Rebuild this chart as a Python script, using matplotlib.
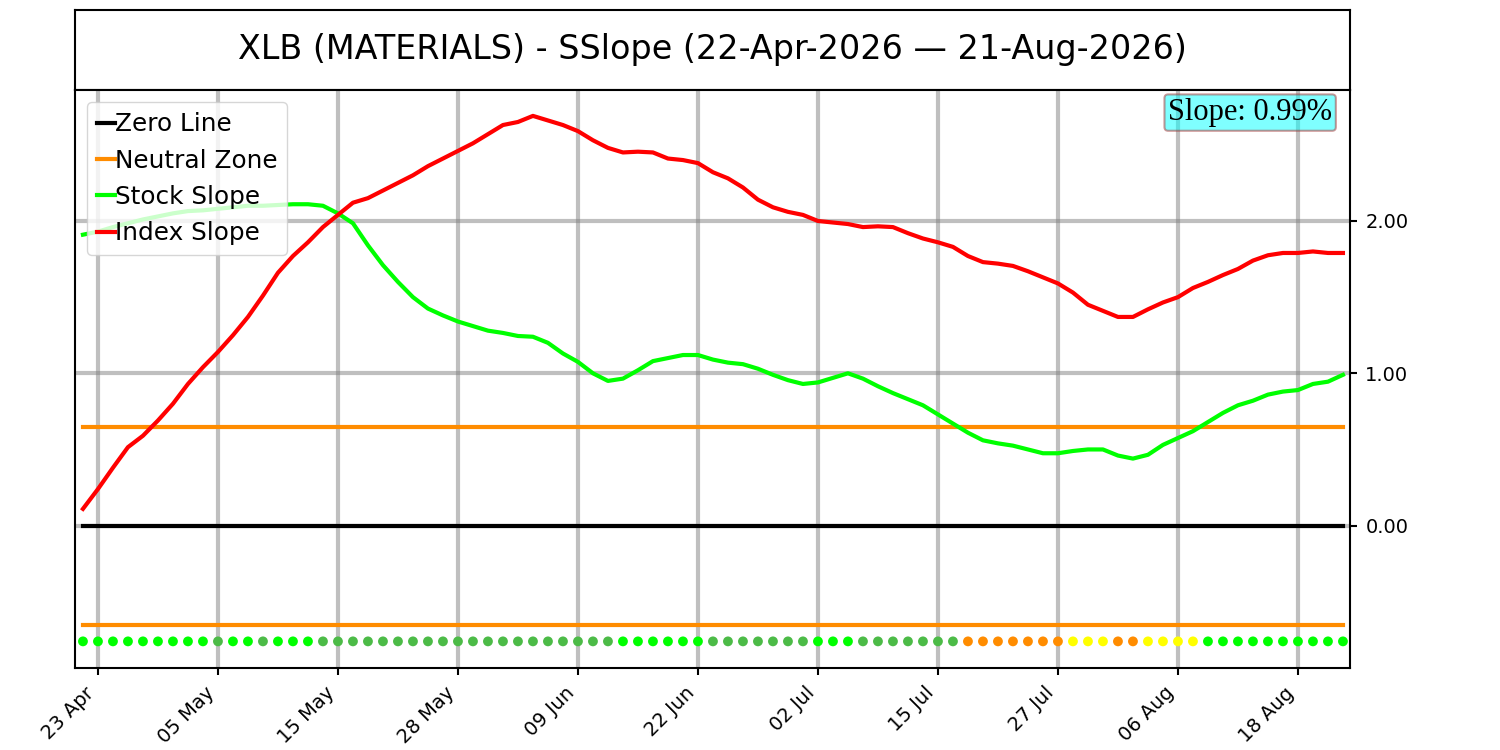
import matplotlib
matplotlib.use("Agg")
import matplotlib.pyplot as plt
from matplotlib.ticker import FormatStrFormatter
import pandas as pd

# trading days shown on the chart (US market holidays removed)
start_date = "2026-04-22"
end_date = "2026-08-21"
holidays = ["2026-05-25", "2026-06-19", "2026-07-03"]

ticker = "XLB"
sector = "MATERIALS"

# slope series, one value per trading day
stock_slope = [1.91, 1.93, 1.96, 1.985, 2.01, 2.03, 2.05, 2.065, 2.07, 2.08,
               2.09, 2.10, 2.10, 2.105, 2.11, 2.11, 2.10, 2.05, 1.985, 1.84,
               1.71, 1.60, 1.50, 1.425, 1.38, 1.34, 1.31, 1.28, 1.265, 1.245,
               1.24, 1.20, 1.13, 1.075, 1.00, 0.95, 0.965, 1.02, 1.08, 1.10,
               1.12, 1.12, 1.09, 1.07, 1.06, 1.03, 0.99, 0.955, 0.93, 0.94,
               0.97, 1.00, 0.965, 0.915, 0.87, 0.83, 0.79, 0.73, 0.67, 0.61,
               0.56, 0.54, 0.525, 0.50, 0.475, 0.475, 0.49, 0.50, 0.50, 0.46,
               0.44, 0.465, 0.53, 0.575, 0.62, 0.68, 0.74, 0.79, 0.82, 0.86,
               0.88, 0.89, 0.93, 0.945, 0.99]

index_slope = [0.11, 0.24, 0.38, 0.515, 0.59, 0.69, 0.80, 0.93, 1.04, 1.14,
               1.25, 1.37, 1.51, 1.66, 1.77, 1.86, 1.96, 2.04, 2.12, 2.15,
               2.20, 2.25, 2.30, 2.36, 2.41, 2.46, 2.51, 2.57, 2.63, 2.65,
               2.69, 2.66, 2.63, 2.59, 2.53, 2.48, 2.45, 2.455, 2.45, 2.41,
               2.40, 2.38, 2.32, 2.28, 2.22, 2.14, 2.09, 2.06, 2.04, 2.00,
               1.99, 1.98, 1.96, 1.965, 1.96, 1.92, 1.885, 1.86, 1.83, 1.77,
               1.73, 1.72, 1.705, 1.67, 1.63, 1.59, 1.53, 1.45, 1.41, 1.37,
               1.37, 1.42, 1.465, 1.50, 1.56, 1.60, 1.645, 1.685, 1.74, 1.775,
               1.79, 1.79, 1.80, 1.79, 1.79]

# daily signal dots along the bottom: L=strong green, G=green, O=orange, Y=yellow
signal = list("LLLLLLLLL" "G" "LL" "G" "LLL" "GGGGGGGGGGGGGGGGGGGG" "LLLLLL"
              "GGGGGGG" "LLL" "GGGGGGG" "OOOOOOO" "YYY" "OO" "YYYY" "LLLLLLLLLL")

neutral_zone = 0.65
dot_level = -0.76

signal_colors = {"L": "#00ff00", "G": "#4cbb47", "O": "#ff8c00", "Y": "#ffff00"}

dates = pd.bdate_range(start_date, end_date, freq="C", holidays=holidays)
x = list(range(len(dates)))

fig = plt.figure(figsize=(15, 7.5), dpi=100)
ax_title = fig.add_axes([0.05, 0.88, 0.85, 0.1067])
ax = fig.add_axes([0.05, 0.1093, 0.85, 0.7707])

# title box
title = "%s (%s) - SSlope (%s \u2014 %s)" % (ticker, sector, dates[0].strftime("%d-%b-%Y"),
                                             dates[-1].strftime("%d-%b-%Y"))
ax_title.text(0.5, 0.5, title, ha="center", va="center", fontsize=24)
ax_title.set_xticks([])
ax_title.set_yticks([])
for sp in ax_title.spines.values():
    sp.set_linewidth(1.5)

ax.plot([x[0], x[-1]], [0, 0], color="black", lw=3, label="Zero Line")
ax.plot([x[0], x[-1]], [neutral_zone, neutral_zone], color="#ff8c00", lw=3, label="Neutral Zone")
ax.plot([x[0], x[-1]], [-neutral_zone, -neutral_zone], color="#ff8c00", lw=3)
ax.plot(x, stock_slope, color="#00ff00", lw=3, label="Stock Slope")
ax.plot(x, index_slope, color="#ff0000", lw=3, label="Index Slope")
ax.scatter(x, [dot_level] * len(x), c=[signal_colors[s] for s in signal], s=50,
           linewidths=0, zorder=3)

ax.set_xlim(-0.53, 84.47)
ax.set_ylim(-0.935, 2.86)

tick_idx = x[1::8]
ax.set_xticks(tick_idx)
ax.set_xticklabels([dates[i].strftime("%d %b") for i in tick_idx], rotation=45, ha="right")
ax.yaxis.tick_right()
ax.set_yticks([0, 1, 2])
ax.yaxis.set_major_formatter(FormatStrFormatter("%.2f"))
ax.tick_params(labelsize=14, length=5, width=1.5, pad=6)
ax.grid(True, color="gray", alpha=0.5, linewidth=3)
for sp in ax.spines.values():
    sp.set_linewidth(1.5)

ax.text(0.986, 0.986, "Slope: %.2f%%" % stock_slope[-1], transform=ax.transAxes,
        ha="right", va="top", fontsize=22, family="Liberation Serif",
        bbox=dict(boxstyle="round,pad=0.12", facecolor="cyan", edgecolor="#a03030",
                  linewidth=1.5, alpha=0.5))

ax.legend(loc="upper left", fontsize=17.8, handlelength=0.7, handletextpad=0.0,
          labelspacing=0.5)

fig.savefig("out.png", dpi=100)
